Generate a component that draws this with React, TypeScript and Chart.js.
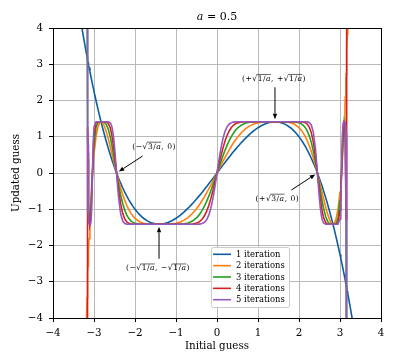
import { useEffect, useRef } from "react";
import { Chart, registerables } from "chart.js";

Chart.register(...registerables);

// ---------- data ----------
const xs = [
  -3.35, -3.3, -3.25, -3.2, -3.19, -3.18, -3.17, -3.165, -3.16, -3.155,
  -3.15, -3.145, -3.14, -3.13, -3.12, -3.1, -3.08, -3.06, -3.04, -3.02,
  -3.0, -2.95, -2.9, -2.85, -2.828, -2.8, -2.75, -2.7, -2.65, -2.6,
  -2.57, -2.55, -2.52, -2.5, -2.47, -2.449, -2.42, -2.4, -2.35, -2.3,
  -2.25, -2.2, -2.15, -2.1, -2.05, -2.0, -1.9, -1.8, -1.7, -1.6,
  -1.5, -1.414, -1.3, -1.2, -1.1, -1.0, -0.9, -0.8, -0.7, -0.6,
  -0.5, -0.45, -0.4, -0.35, -0.3, -0.25, -0.2, -0.15, -0.1, -0.05,
  0,
  0.05, 0.1, 0.15, 0.2, 0.25, 0.3, 0.35, 0.4, 0.45, 0.5,
  0.6, 0.7, 0.8, 0.9, 1.0, 1.1, 1.2, 1.3, 1.414, 1.5,
  1.6, 1.7, 1.8, 1.9, 2.0, 2.05, 2.1, 2.15, 2.2, 2.25,
  2.3, 2.35, 2.4, 2.42, 2.449, 2.47, 2.5, 2.52, 2.55, 2.57,
  2.6, 2.65, 2.7, 2.75, 2.8, 2.828, 2.85, 2.9, 2.95, 3.0,
  3.02, 3.04, 3.06, 3.08, 3.1, 3.12, 3.13, 3.14, 3.145, 3.15,
  3.155, 3.16, 3.165, 3.17, 3.18, 3.19, 3.2, 3.25, 3.3, 3.35,
];

const iter1 = [
  4.374, 4.034, 3.707, 3.392, 3.33, 3.269, 3.209, 3.179, 3.149, 3.119,
  3.089, 3.059, 3.03, 2.971, 2.913, 2.798, 2.685, 2.573, 2.464, 2.356,
  2.25, 1.993, 1.747, 1.512, 1.414, 1.288, 1.074, 0.871, 0.677, 0.494,
  0.389, 0.32, 0.221, 0.156, 0.062, 0, -0.087, -0.144, -0.281, -0.408,
  -0.527, -0.638, -0.74, -0.835, -0.921, -1.0, -1.135, -1.242, -1.322, -1.376,
  -1.406, -1.414, -1.401, -1.368, -1.317, -1.25, -1.168, -1.072, -0.964, -0.846,
  -0.719, -0.652, -0.584, -0.514, -0.443, -0.371, -0.298, -0.224, -0.15, -0.075,
  0,
  0.075, 0.15, 0.224, 0.298, 0.371, 0.443, 0.514, 0.584, 0.652, 0.719,
  0.846, 0.964, 1.072, 1.168, 1.25, 1.317, 1.368, 1.401, 1.414, 1.406,
  1.376, 1.322, 1.242, 1.135, 1.0, 0.921, 0.835, 0.74, 0.638, 0.527,
  0.408, 0.281, 0.144, 0.087, 0, -0.062, -0.156, -0.221, -0.32, -0.389,
  -0.494, -0.677, -0.871, -1.074, -1.288, -1.414, -1.512, -1.747, -1.993, -2.25,
  -2.356, -2.464, -2.573, -2.685, -2.798, -2.913, -2.971, -3.03, -3.059, -3.089,
  -3.119, -3.149, -3.179, -3.209, -3.269, -3.33, -3.392, -3.707, -4.034, -4.374,
];

const iter2 = [
  null, null, null, null, -4.24, -3.832, -3.446, -3.261, -3.081, -2.906,
  -2.735, -2.569, -2.408, -2.1, -1.809, -1.278, -0.81, -0.4, -0.043, 0.265,
  0.527, 1.01, 1.287, 1.404, 1.414, 1.398, 1.301, 1.141, 0.938, 0.711,
  0.568, 0.472, 0.328, 0.233, 0.093, 0, -0.13, -0.215, -0.415, -0.595,
  -0.754, -0.892, -1.009, -1.107, -1.186, -1.25, -1.337, -1.384, -1.405, -1.413,
  -1.414, -1.414, -1.414, -1.412, -1.404, -1.387, -1.354, -1.3, -1.222, -1.118,
  -0.985, -0.909, -0.826, -0.737, -0.643, -0.544, -0.44, -0.333, -0.224, -0.112,
  0,
  0.112, 0.224, 0.333, 0.44, 0.544, 0.643, 0.737, 0.826, 0.909, 0.985,
  1.118, 1.222, 1.3, 1.354, 1.387, 1.404, 1.412, 1.414, 1.414, 1.414,
  1.413, 1.405, 1.384, 1.337, 1.25, 1.186, 1.107, 1.009, 0.892, 0.754,
  0.595, 0.415, 0.215, 0.13, 0, -0.093, -0.233, -0.328, -0.472, -0.568,
  -0.711, -0.938, -1.141, -1.301, -1.398, -1.414, -1.404, -1.287, -1.01, -0.527,
  -0.265, 0.043, 0.4, 0.81, 1.278, 1.809, 2.1, 2.408, 2.569, 2.735,
  2.906, 3.081, 3.261, 3.446, 3.832, 4.24, null, null, null, null,
];

const iter3 = [
  null, null, null, null, null, 8.322, 5.063, 3.778, 2.689, 1.774,
  1.012, 0.387, -0.12, -0.835, -1.233, -1.395, -1.082, -0.583, -0.064, 0.393,
  0.754, 1.258, 1.398, 1.414, 1.414, 1.414, 1.401, 1.34, 1.201, 0.976,
  0.807, 0.682, 0.484, 0.347, 0.14, 0, -0.195, -0.32, -0.605, -0.84,
  -1.024, -1.161, -1.257, -1.321, -1.362, -1.387, -1.408, -1.413, -1.414, -1.414,
  -1.414, -1.414, -1.414, -1.414, -1.414, -1.413, -1.41, -1.401, -1.377, -1.327,
  -1.239, -1.176, -1.098, -1.006, -0.898, -0.776, -0.639, -0.491, -0.333, -0.168,
  0,
  0.168, 0.333, 0.491, 0.639, 0.776, 0.898, 1.006, 1.098, 1.176, 1.239,
  1.327, 1.377, 1.401, 1.41, 1.413, 1.414, 1.414, 1.414, 1.414, 1.414,
  1.414, 1.414, 1.413, 1.408, 1.387, 1.362, 1.321, 1.257, 1.161, 1.024,
  0.84, 0.605, 0.32, 0.195, 0, -0.14, -0.347, -0.484, -0.682, -0.807,
  -0.976, -1.201, -1.34, -1.401, -1.414, -1.414, -1.414, -1.398, -1.258, -0.754,
  -0.393, 0.064, 0.583, 1.082, 1.395, 1.233, 0.835, 0.12, -0.387, -1.012,
  -1.774, -2.689, -3.778, -5.063, -8.322, null, null, null, null, null,
];

const iter4 = [
  null, null, null, null, null, null, -24.85, -7.815, -0.827, 1.265,
  1.259, 0.565, -0.18, -1.107, -1.381, -1.414, -1.306, -0.825, -0.096, 0.574,
  1.024, 1.389, 1.414, 1.414, 1.414, 1.414, 1.414, 1.409, 1.368, 1.232,
  1.079, 0.944, 0.697, 0.51, 0.209, 0, -0.29, -0.472, -0.852, -1.112,
  -1.268, -1.35, -1.389, -1.405, -1.411, -1.413, -1.414, -1.414, -1.414, -1.414,
  -1.414, -1.414, -1.414, -1.414, -1.414, -1.414, -1.414, -1.414, -1.413, -1.406,
  -1.383, -1.357, -1.316, -1.254, -1.166, -1.047, -0.894, -0.707, -0.49, -0.251,
  0,
  0.251, 0.49, 0.707, 0.894, 1.047, 1.166, 1.254, 1.316, 1.357, 1.383,
  1.406, 1.413, 1.414, 1.414, 1.414, 1.414, 1.414, 1.414, 1.414, 1.414,
  1.414, 1.414, 1.414, 1.414, 1.413, 1.411, 1.405, 1.389, 1.35, 1.268,
  1.112, 0.852, 0.472, 0.29, 0, -0.209, -0.51, -0.697, -0.944, -1.079,
  -1.232, -1.368, -1.409, -1.414, -1.414, -1.414, -1.414, -1.414, -1.389, -1.024,
  -0.574, 0.096, 0.825, 1.306, 1.414, 1.381, 1.107, 0.18, -0.565, -1.259,
  -1.265, 0.827, 7.815, 24.85, null, null, null, null, null, null,
];

const iter5 = [
  null, null, null, null, null, null, null, 107.6, -1.099, 1.392,
  1.39, 0.803, -0.268, -1.321, -1.413, -1.414, -1.402, -1.098, -0.144, 0.814,
  1.268, 1.414, 1.414, 1.414, 1.414, 1.414, 1.414, 1.414, 1.412, 1.38,
  1.304, 1.205, 0.961, 0.732, 0.311, 0, -0.429, -0.682, -1.124, -1.324,
  -1.392, -1.41, -1.414, -1.414, -1.414, -1.414, -1.414, -1.414, -1.414, -1.414,
  -1.414, -1.414, -1.414, -1.414, -1.414, -1.414, -1.414, -1.414, -1.414, -1.414,
  -1.413, -1.411, -1.404, -1.388, -1.353, -1.283, -1.162, -0.972, -0.706, -0.373,
  0,
  0.373, 0.706, 0.972, 1.162, 1.283, 1.353, 1.388, 1.404, 1.411, 1.413,
  1.414, 1.414, 1.414, 1.414, 1.414, 1.414, 1.414, 1.414, 1.414, 1.414,
  1.414, 1.414, 1.414, 1.414, 1.414, 1.414, 1.414, 1.414, 1.41, 1.392,
  1.324, 1.124, 0.682, 0.429, 0, -0.311, -0.732, -0.961, -1.205, -1.304,
  -1.38, -1.412, -1.414, -1.414, -1.414, -1.414, -1.414, -1.414, -1.414, -1.268,
  -0.814, 0.144, 1.098, 1.402, 1.414, 1.413, 1.321, 0.268, -0.803, -1.39,
  -1.392, 1.099, -107.6, null, null, null, null, null, null, null,
];

const seriesLabels = ["1 iteration", "2 iterations", "3 iterations", "4 iterations", "5 iterations"];
const axisTicks = [-4, -3, -2, -1, 0, 1, 2, 3, 4];
const titleText = "a = 0.5";
const xTitle = "Initial guess";
const yTitle = "Updated guess";

// annotated points (data coordinates)
const annX = [-2.449, 1.414, -1.414, 2.449];
const annY = [0, 1.414, -1.414, 0];

// ---------- styles ----------
const COLORS = ["#0C5DA5", "#FF7F0E", "#1FA01F", "#D62020", "#9458BE"];
const FONT = '"DejaVu Serif", serif';

type Part = { t: string; it?: boolean; rad?: boolean };

const annParts: Part[][] = [
  [{ t: "(\u2212" }, { t: "3/", rad: true }, { t: "a", it: true, rad: true }, { t: ", 0)" }],
  [{ t: "(+" }, { t: "1/", rad: true }, { t: "a", it: true, rad: true }, { t: ", +" }, { t: "1/", rad: true }, { t: "a", it: true, rad: true }, { t: ")" }],
  [{ t: "(\u2212" }, { t: "1/", rad: true }, { t: "a", it: true, rad: true }, { t: ", \u2212" }, { t: "1/", rad: true }, { t: "a", it: true, rad: true }, { t: ")" }],
  [{ t: "(+" }, { t: "3/", rad: true }, { t: "a", it: true, rad: true }, { t: ", 0)" }],
];
// text centre offset from point and arrow start offset from point (pixels)
const annLayout = [
  { tx: 37.5, ty: -27, sx: 26, sy: -17 },
  { tx: -1, ty: -43.5, sx: 0, sy: -34.5 },
  { tx: -1, ty: 43.5, sx: 0, sy: 34.5 },
  { tx: -40, ty: 25, sx: -26, sy: 17 },
];

function drawMath(ctx: CanvasRenderingContext2D, parts: Part[], cx: number, cy: number, size: number, spacing = 0) {
  const fn = (it?: boolean) => `${it ? "italic " : ""}${size}px ${FONT}`;
  const widths = parts.map((p) => {
    ctx.font = fn(p.it);
    return ctx.measureText(p.t).width + spacing * p.t.length;
  });
  ctx.font = fn(false);
  const sw = ctx.measureText("\u221A").width + spacing;
  let total = 0;
  parts.forEach((p, i) => {
    total += widths[i];
    if (p.rad && !(i > 0 && parts[i - 1].rad)) total += sw;
  });
  let x = cx - total / 2;
  const base = cy + size * 0.36;
  ctx.textBaseline = "alphabetic";
  ctx.textAlign = "left";
  ctx.fillStyle = "#000";
  ctx.strokeStyle = "#000";
  let radStart = 0;
  const drawSpaced = (t: string, x0: number) => {
    let xx = x0;
    for (const ch of t) {
      ctx.fillText(ch, xx, base);
      xx += ctx.measureText(ch).width + spacing;
    }
  };
  parts.forEach((p, i) => {
    if (p.rad && !(i > 0 && parts[i - 1].rad)) {
      ctx.font = fn(false);
      ctx.fillText("\u221A", x, base);
      x += sw;
      radStart = x;
    }
    ctx.font = fn(p.it);
    drawSpaced(p.t, x);
    x += widths[i];
    if (p.rad && !(i < parts.length - 1 && parts[i + 1].rad)) {
      const oy = base - size * 0.86;
      ctx.beginPath();
      ctx.lineWidth = Math.max(0.6, size * 0.07);
      ctx.moveTo(radStart - 0.4 - spacing, oy);
      ctx.lineTo(x + 0.3 - spacing, oy);
      ctx.stroke();
    }
  });
}

function drawArrow(ctx: CanvasRenderingContext2D, x1: number, y1: number, x2: number, y2: number) {
  const ang = Math.atan2(y2 - y1, x2 - x1);
  const hl = 5.5;
  const hw = 2.2;
  const bx = x2 - hl * Math.cos(ang);
  const by = y2 - hl * Math.sin(ang);
  ctx.strokeStyle = "#000";
  ctx.fillStyle = "#000";
  ctx.lineWidth = 1;
  ctx.beginPath();
  ctx.moveTo(x1, y1);
  ctx.lineTo(bx, by);
  ctx.stroke();
  ctx.beginPath();
  ctx.moveTo(x2, y2);
  ctx.lineTo(bx + hw * Math.sin(ang), by - hw * Math.cos(ang));
  ctx.lineTo(bx - hw * Math.sin(ang), by + hw * Math.cos(ang));
  ctx.closePath();
  ctx.fill();
}

const decorPlugin = {
  id: "decor",
  afterDatasetsDraw(chart: any) {
    const ctx: CanvasRenderingContext2D = chart.ctx;
    const a = chart.chartArea;
    ctx.save();
    ctx.strokeStyle = "#000";
    ctx.lineWidth = 1;
    ctx.strokeRect(Math.round(a.left) + 0.5, Math.round(a.top) + 0.5, Math.round(a.right - a.left), Math.round(a.bottom - a.top));
    ctx.restore();
  },
  afterDraw(chart: any) {
    const ctx: CanvasRenderingContext2D = chart.ctx;
    const a = chart.chartArea;
    const sx = chart.scales.x;
    const sy = chart.scales.y;
    ctx.save();

    // title
    const tparts: Part[] = [{ t: titleText.slice(0, 1), it: true }, { t: titleText.slice(1) }];
    drawMath(ctx, tparts, (a.left + a.right) / 2, 16.5, 11);

    // axis titles
    ctx.fillStyle = "#000";
    ctx.font = `10.3px ${FONT}`;
    ctx.textAlign = "center";
    ctx.textBaseline = "middle";
    ctx.fillText(xTitle, (a.left + a.right) / 2, 346);
    ctx.save();
    ctx.translate(16, (a.top + a.bottom) / 2);
    ctx.rotate(-Math.PI / 2);
    ctx.fillText(yTitle, 0, 0);
    ctx.restore();

    // annotations
    annX.forEach((vx, i) => {
      const px = sx.getPixelForValue(vx);
      const py = sy.getPixelForValue(annY[i]);
      const L = annLayout[i];
      drawMath(ctx, annParts[i], px + L.tx, py + L.ty, 7.6, 0.5);
      const d = Math.hypot(L.sx, L.sy);
      drawArrow(ctx, px + L.sx, py + L.sy, px + (L.sx / d) * 2.6, py + (L.sy / d) * 2.6);
    });

    // legend
    const lx = 211, ly = 247, lw = 78, lh = 60;
    ctx.fillStyle = "rgba(255,255,255,0.85)";
    ctx.strokeStyle = "#cccccc";
    ctx.lineWidth = 1;
    ctx.beginPath();
    (ctx as any).roundRect(lx + 0.5, ly + 0.5, lw, lh, 2);
    ctx.fill();
    ctx.stroke();
    ctx.font = `8.4px ${FONT}`;
    ctx.textAlign = "left";
    ctx.textBaseline = "middle";
    seriesLabels.forEach((lab, i) => {
      const y = ly + 7.3 + i * 11.35;
      ctx.strokeStyle = COLORS[i];
      ctx.lineWidth = 1.6;
      ctx.beginPath();
      ctx.moveTo(lx + 2, y);
      ctx.lineTo(lx + 20, y);
      ctx.stroke();
      ctx.fillStyle = "#000";
      ctx.fillText(lab, lx + 25, y + 0.5);
    });
    ctx.restore();
  },
};

const fmt = (v: any) => {
  const n = Number(v);
  return n < 0 ? "\u2212" + Math.abs(n) : String(n);
};

export default function App() {
  const ref = useRef<HTMLCanvasElement>(null);
  useEffect(() => {
    document.body.style.margin = "0";
    const series = [iter1, iter2, iter3, iter4, iter5];
    const chart = new Chart(ref.current as HTMLCanvasElement, {
      type: "line",
      data: {
        datasets: series.map((ys, i) => ({
          label: seriesLabels[i],
          data: xs.map((x, j) => ({ x, y: ys[j] as any })),
          borderColor: COLORS[i],
          backgroundColor: COLORS[i],
          borderWidth: 1.6,
          pointRadius: 0,
          tension: 0,
          fill: false,
          spanGaps: false,
          order: 4 - i,
        })),
      },
      options: {
        responsive: false,
        maintainAspectRatio: false,
        devicePixelRatio: 1,
        animation: false,
        events: [],
        layout: { padding: { left: 0, right: 19, top: 28, bottom: 0 } },
        plugins: {
          legend: { display: false },
          tooltip: { enabled: false },
          title: { display: false },
        },
        scales: {
          x: {
            type: "linear",
            min: -4,
            max: 4,
            afterFit: (s: any) => {
              s.height = 42;
            },
            afterBuildTicks: (s: any) => {
              s.ticks = axisTicks.map((v) => ({ value: v }));
            },
            ticks: {
              color: "#000",
              font: { family: FONT, size: 10.3 },
              padding: 5,
              maxRotation: 0,
              autoSkip: false,
              callback: fmt,
            },
            grid: { color: "#b8b8b8", lineWidth: 1, tickColor: "#000", tickLength: 4, drawTicks: true },
            border: { color: "#000", width: 1 },
          },
          y: {
            type: "linear",
            min: -4,
            max: 4,
            afterFit: (s: any) => {
              s.width = 53;
            },
            afterBuildTicks: (s: any) => {
              s.ticks = axisTicks.map((v) => ({ value: v }));
            },
            ticks: {
              color: "#000",
              font: { family: FONT, size: 10.3 },
              padding: 6,
              autoSkip: false,
              callback: fmt,
            },
            grid: { color: "#b8b8b8", lineWidth: 1, tickColor: "#000", tickLength: 4, drawTicks: true },
            border: { color: "#000", width: 1 },
          },
        },
      },
      plugins: [decorPlugin],
    } as any);
    return () => chart.destroy();
  }, []);
  return (
    <div style={{ width: 400, height: 360 }}>
      <canvas ref={ref} width={400} height={360} style={{ display: "block" }} />
    </div>
  );
}
